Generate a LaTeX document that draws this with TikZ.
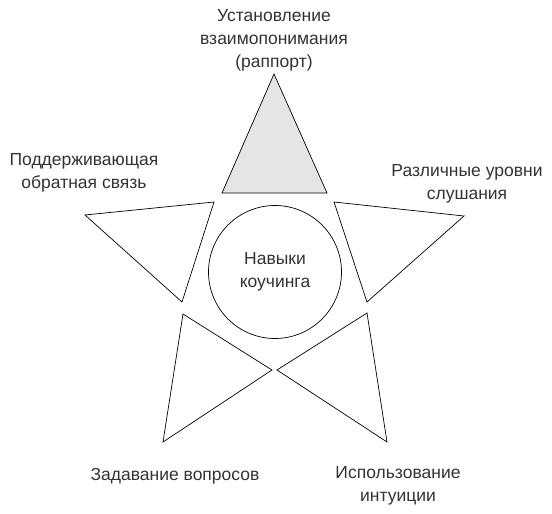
\documentclass[tikz,border=0pt]{standalone}
\usepackage{fontspec}
\setmainfont{Liberation Sans}
\begin{document}
\begin{tikzpicture}[x=1pt,y=-1pt,
  tri/.style={draw=black,line width=0.7pt,line join=miter},
  lbl/.style={align=center,text=black!80,font=\fontsize{17.5}{23}\selectfont,inner sep=0pt}]
\useasboundingbox (0,0) rectangle (552,514);
\fill[white] (0,0) rectangle (552,514);
% top triangle
\draw[tri,fill=black!10] (274,74) -- (327,193) -- (222,193) -- cycle;
% left
\draw[tri] (85,215) -- (214,202) -- (182,302) -- cycle;
% right
\draw[tri] (334,202) -- (464,216) -- (367,302) -- cycle;
% bottom left
\draw[tri] (183,314) -- (272,370) -- (163,442) -- cycle;
% bottom right
\draw[tri] (367,313) -- (277,370) -- (387,442) -- cycle;
% circle
\node[circle,draw=black,line width=0.7pt,minimum size=133pt,inner sep=0pt,align=center,text=black!80,font=\fontsize{17.5}{23}\selectfont] (c) at (275,272) {Навыки\\коучинга};
\node[lbl] (t1) at (274,40) {Установление\\взаимопонимания\\(раппорт)};
\node[lbl] (t2) at (84,172.5) {Поддерживающая\\обратная связь};
\node[lbl] (t3) at (467,183.5) {Различные уровни\\слушания};
\node[lbl] (t4) at (175,476) {Задавание вопросов};
\node[lbl] (t5) at (398,486) {Использование\\интуиции};
\end{tikzpicture}
\end{document}
